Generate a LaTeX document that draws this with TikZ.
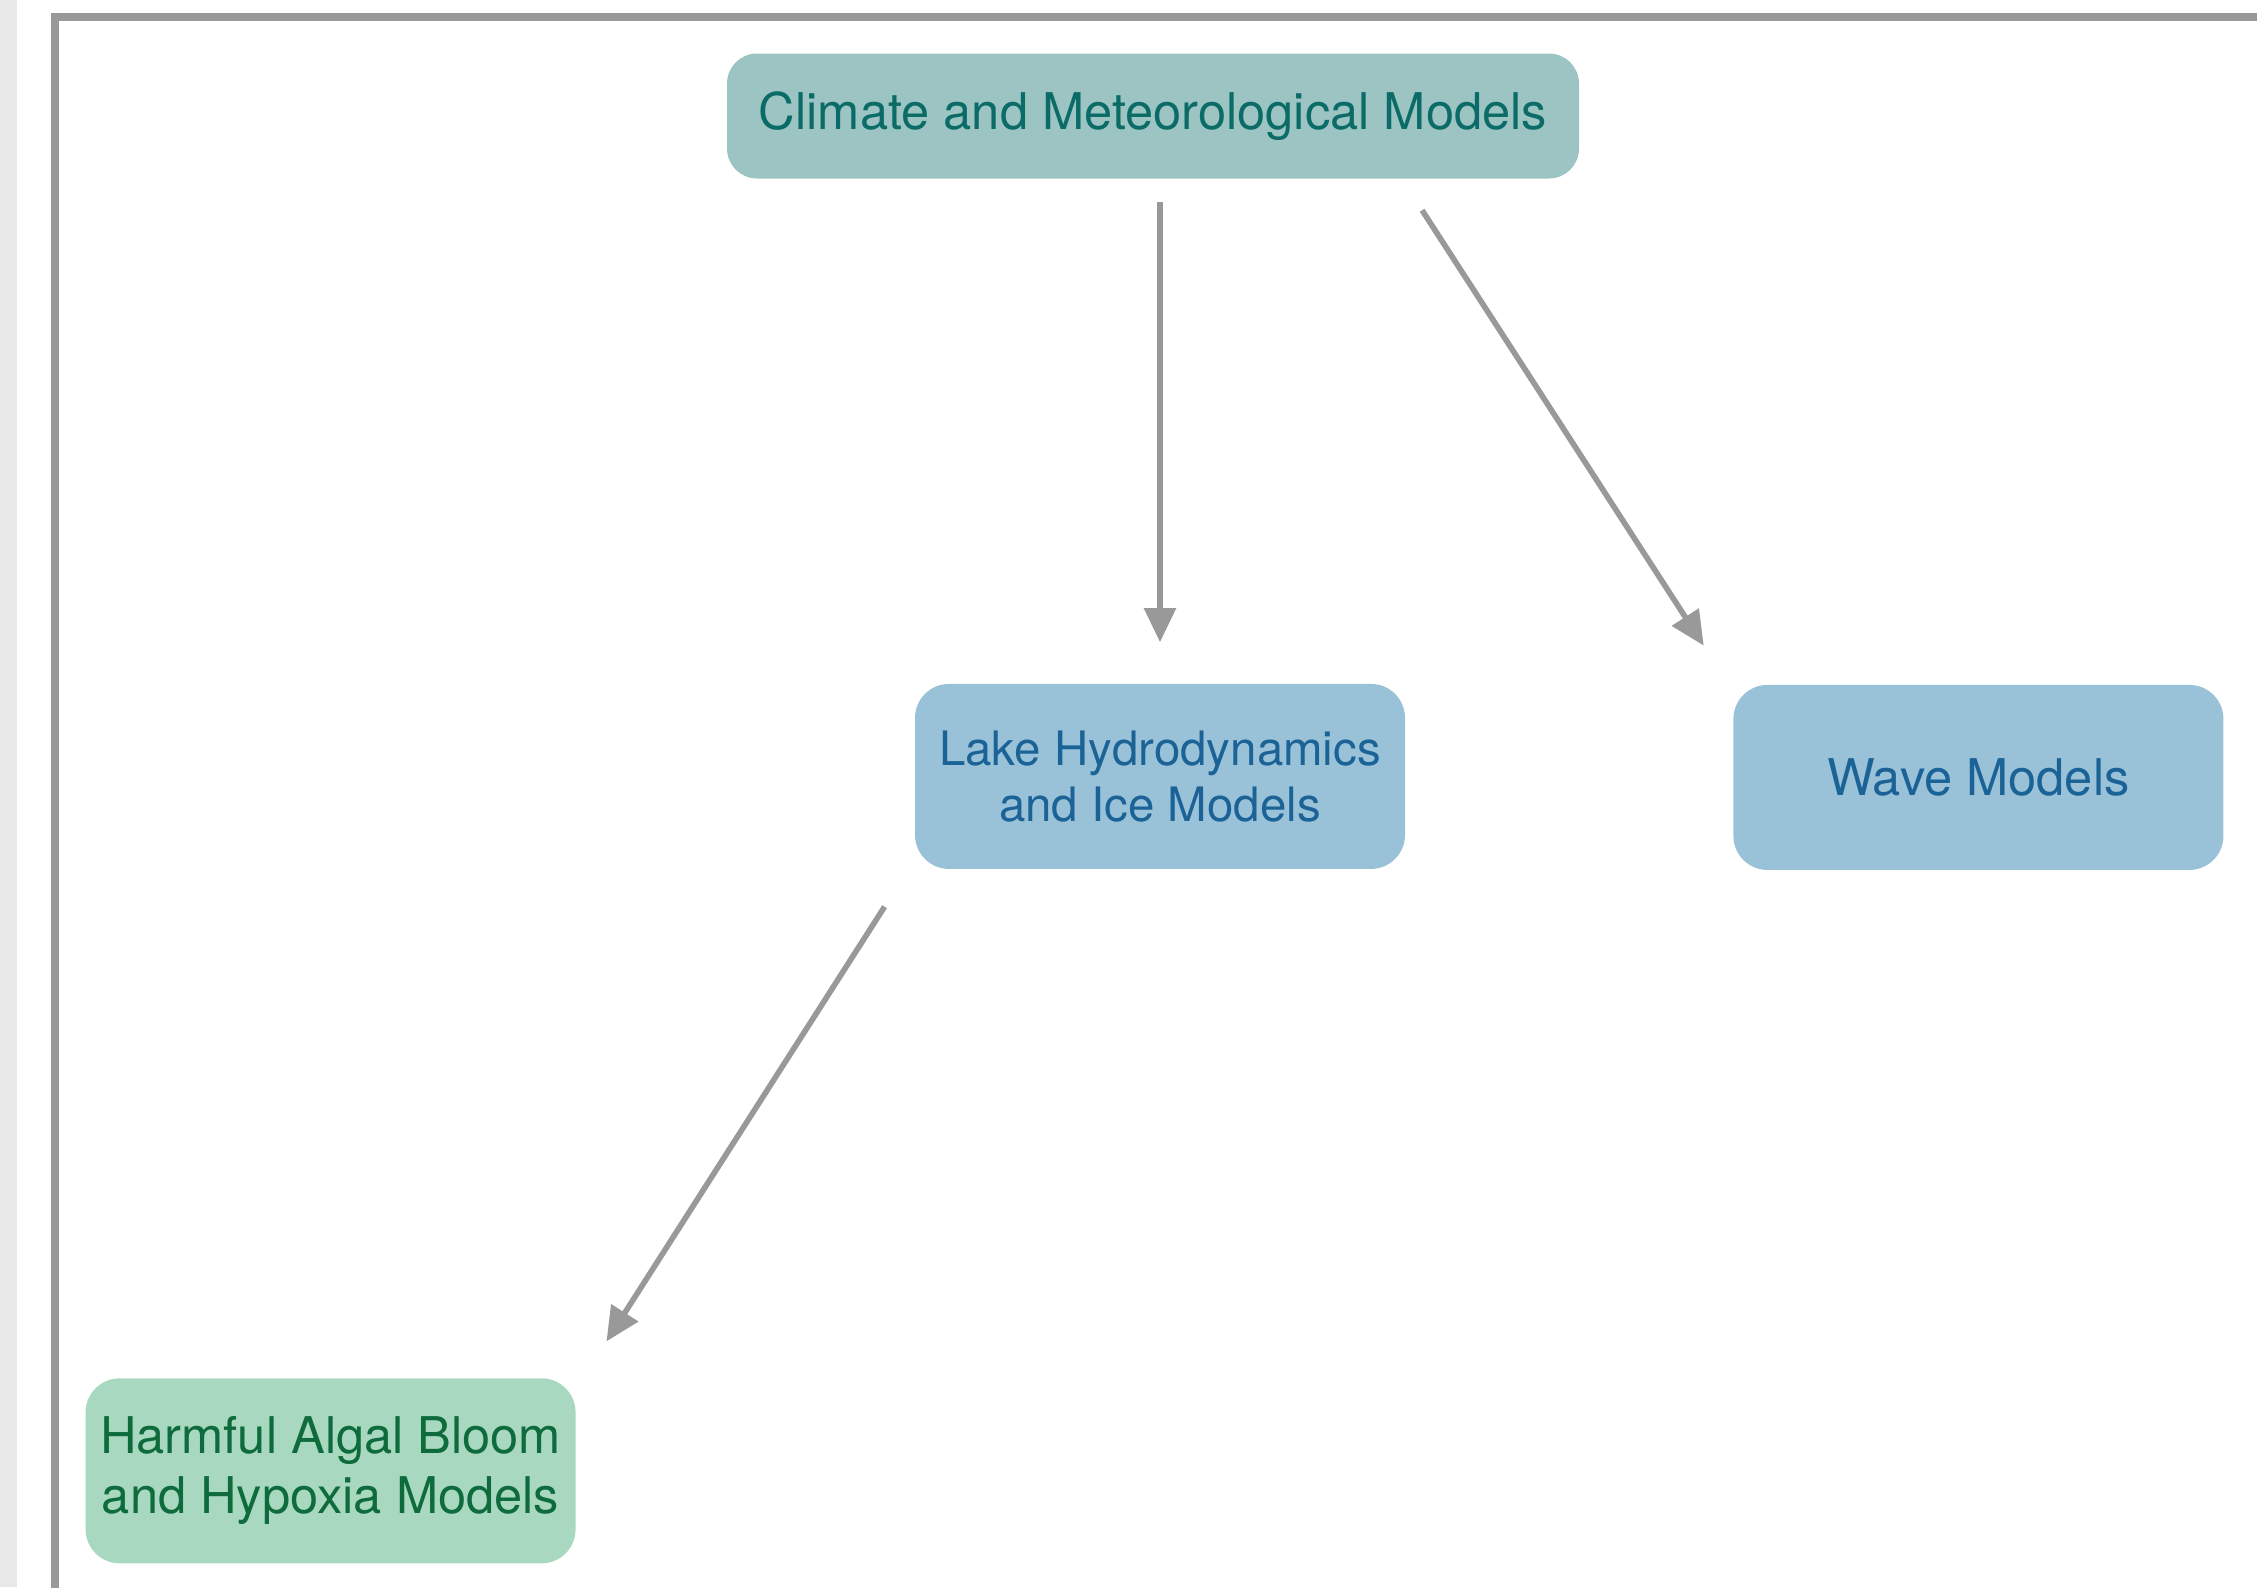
\documentclass[tikz,border=0pt]{standalone}
\usepackage{fontspec}
\setmainfont{TeX Gyre Heros}
\usepackage{xcolor}
\usepackage{tikz}
\usetikzlibrary{positioning,arrows.meta}
\definecolor{climfill}{HTML}{9BC4C3}
\definecolor{climtext}{HTML}{0B6B66}
\definecolor{hydrofill}{HTML}{99C2D8}
\definecolor{hydrotext}{HTML}{1B6396}
\definecolor{habfill}{HTML}{A9D8C1}
\definecolor{habtext}{HTML}{0E6B3B}
\definecolor{linegray}{HTML}{999999}

\begin{document}
\begin{tikzpicture}[
  box/.style={rectangle, rounded corners=0.34cm, inner sep=0pt, align=center,
    minimum width=4.9cm, minimum height=1.85cm, font=\fontsize{14.4}{17}\selectfont},
  clim/.style={box, fill=climfill, text=climtext, minimum width=8.52cm, minimum height=1.25cm, rounded corners=0.3cm},
  hydro/.style={box, fill=hydrofill, text=hydrotext},
  hab/.style={box, fill=habfill, text=habtext},
  arr/.style={-{Triangle[length=0.34cm,width=0.31cm]}, line width=1.6pt, draw=linegray}
]
\useasboundingbox (0,0) rectangle (22.57,-15.87);
\clip (0,0) rectangle (22.57,-15.87);
% background strip and frame
\fill[gray!18] (0,0) rectangle (0.17,-15.87);
\draw[linegray, line width=2.3pt] (0.55,-16.5) -- (0.55,-0.17) -- (23.5,-0.17);

\node[clim] (clim) at (11.53,-1.16) {Climate and Meteorological Models};
\node[hydro, below=5.04cm of clim, xshift=0.07cm, font=\fontsize{13.5}{16}\selectfont] (lake) {Lake Hydrodynamics\\and Ice Models};
\node[hydro, right=3.27cm of lake, yshift=-0.01cm] (wave) {Wave Models};
\node[hab, below left=5.08cm and 3.38cm of lake] (hab) {Harmful Algal Bloom\\and Hypoxia Models};

\draw[arr, shorten <=0.23cm, shorten >=0.41cm] (clim.south -| lake.north) -- (lake.north);
\draw[arr, shorten <=0.37cm, shorten >=0.46cm] ([xshift=2.49cm]clim.south) -- ([xshift=-0.04cm]wave.north west);
\draw[arr, shorten <=0.44cm, shorten >=0.43cm] ([xshift=-0.06cm]lake.south west) -- ([xshift=0.07cm]hab.north east);
\end{tikzpicture}
\end{document}
